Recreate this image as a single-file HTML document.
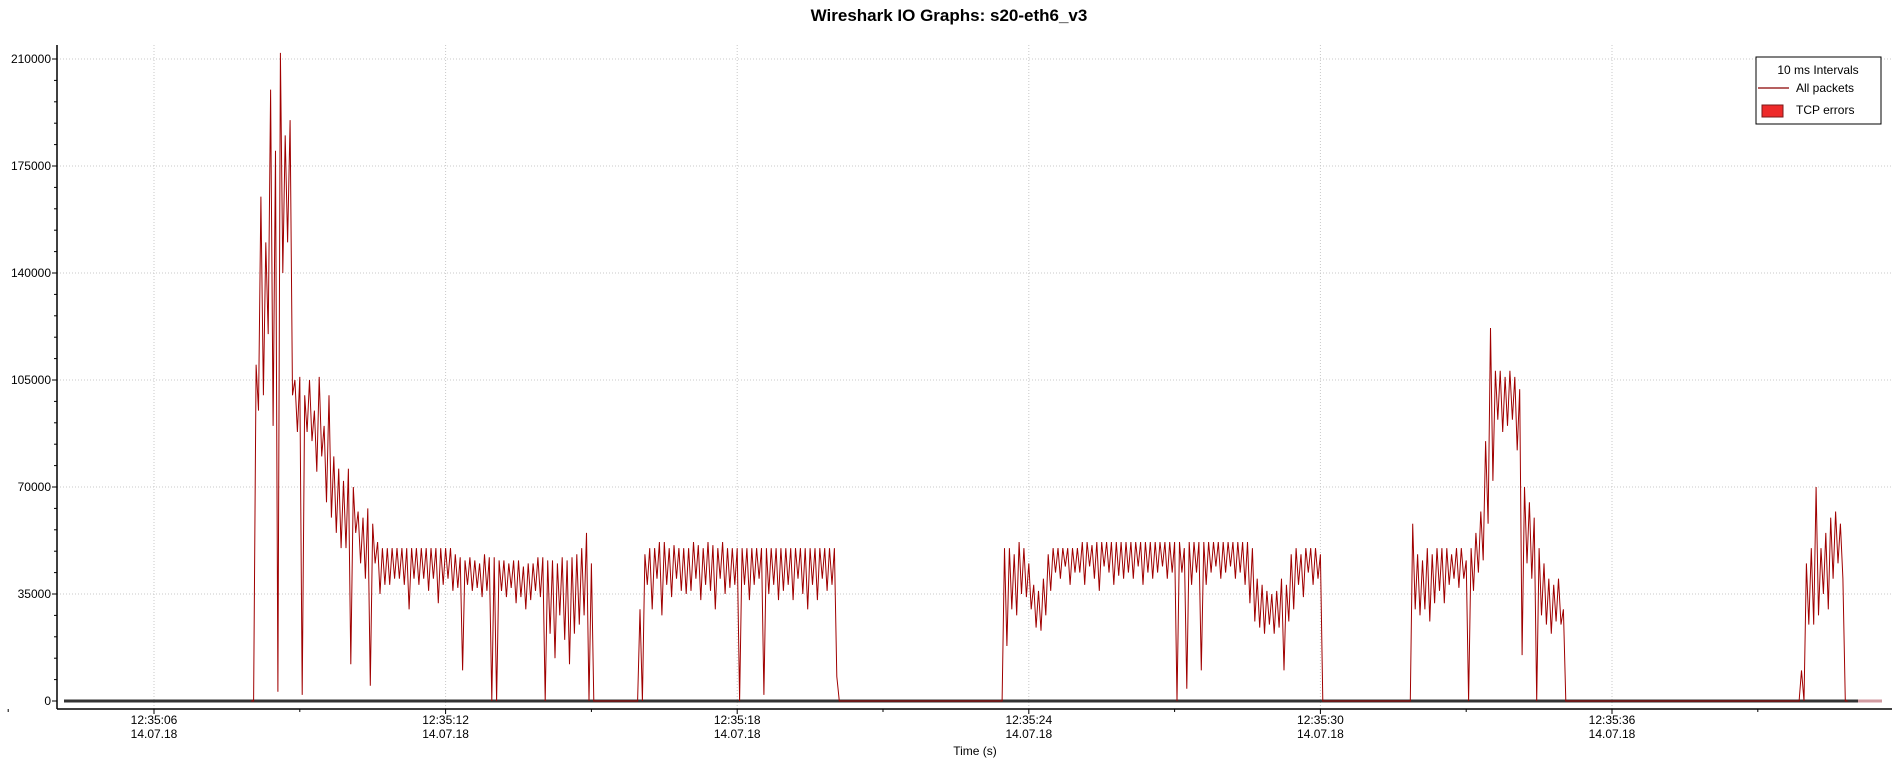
<!DOCTYPE html>
<html><head><meta charset="utf-8">
<style>
html,body{margin:0;padding:0;background:#fff;}
svg{display:block;font-family:"Liberation Sans","DejaVu Sans",sans-serif;}
</style></head>
<body>
<svg id="chart" width="1898" height="763" viewBox="0 0 1898 763">
<text x="949" y="21" text-anchor="middle" font-size="17" font-weight="bold" fill="#000">Wireshark IO Graphs: s20-eth6_v3</text>
<g id="grid"></g>
<g id="axes"></g>
<g id="series"></g>
<text x="975" y="755" text-anchor="middle" font-size="12" fill="#000">Time (s)</text>
<g>
<rect x="1756" y="57" width="125" height="67" fill="#fff" stroke="#000" stroke-width="1"/>
<text x="1818" y="74" text-anchor="middle" font-size="12" fill="#000">10 ms Intervals</text>
<line x1="1758" y1="88" x2="1789" y2="88" stroke="#8b0000" stroke-width="1.2"/>
<text x="1796" y="92" font-size="12" fill="#000">All packets</text>
<rect x="1762" y="105" width="21" height="12" fill="#ee2a2a" stroke="#7a1a1a" stroke-width="1"/>
<text x="1796" y="114" font-size="12" fill="#000">TCP errors</text>
</g>
</svg>
<script>
const startTime = 8.0;
const stepSec = 0.1;
const highK = [
0,110,165,150,200,180,212,185,190,105,
106,100,105,95,106,90,100,80,76,72,
76,70,62,60,63,58,52,50,50,50,
50,50,50,50,50,50,50,50,50,50,
50,50,48,47,46,47,46,45,48,47,
47,46,46,45,46,46,44,45,45,47,
47,46,46,45,47,46,47,48,50,55,
45,0,0,0,0,0,0,0,0,0,
30,48,50,50,52,52,50,51,50,50,
50,52,51,50,52,51,50,52,50,50,
50,50,50,50,50,50,50,50,50,50,
50,50,50,50,50,50,50,50,50,50,
50,0,0,0,0,0,0,0,0,0,
0,0,0,0,0,0,0,0,0,0,
0,0,0,0,0,0,0,0,0,0,
0,0,0,0,0,50,50,48,52,50,
45,38,36,40,48,50,50,50,50,50,
50,52,52,51,52,52,52,52,52,52,
52,52,52,52,52,52,52,52,52,52,
52,52,50,52,52,52,52,52,52,52,
52,52,52,52,52,52,50,40,38,36,
35,36,40,38,48,50,48,50,50,50,
48,0,0,0,0,0,0,0,0,0,
0,0,0,0,0,0,0,0,0,58,
48,46,50,48,50,50,50,48,50,50,
46,50,55,62,85,122,108,108,106,108,
106,102,70,65,60,50,45,40,38,40,
30,0,0,0,0,0,0,0,0,0,
0,0,0,0,0,0,0,0,0,0,
0,0,0,0,0,0,0,0,0,0,
0,0,0,0,0,0,0,0,0,0,
0,0,0,0,0,0,0,0,0,10,
45,50,70,50,55,60,62,58,0
];
const lowK = [
0,95,100,120,90,3,140,150,100,88,
2,88,85,75,80,65,60,55,50,50,
12,55,45,40,5,45,35,38,38,40,
40,38,30,40,38,40,36,40,32,38,
40,36,37,10,38,36,37,34,36,0,
0,36,34,37,32,34,30,33,36,34,
0,22,14,28,20,12,22,25,28,0,
0,0,0,0,0,0,0,0,0,0,
0,38,30,40,28,38,34,40,36,35,
36,40,33,38,36,30,40,35,37,38,
0,38,33,38,40,2,35,38,33,36,
38,33,40,35,30,38,33,40,36,38,
8,0,0,0,0,0,0,0,0,0,
0,0,0,0,0,0,0,0,0,0,
0,0,0,0,0,0,0,0,0,0,
0,0,0,0,0,18,30,28,35,34,
30,24,23,28,36,42,40,44,38,42,
42,38,44,40,36,44,42,38,41,40,
42,40,44,38,42,40,42,44,40,42,
0,42,4,38,42,10,38,42,44,40,
42,44,40,42,38,32,26,24,22,25,
22,24,10,26,30,38,34,42,38,40,
0,0,0,0,0,0,0,0,0,0,
0,0,0,0,0,0,0,0,0,30,
28,30,26,32,36,32,38,40,37,40,
0,36,42,46,58,72,92,88,90,92,
82,15,45,40,0,28,25,22,26,25,
0,0,0,0,0,0,0,0,0,0,
0,0,0,0,0,0,0,0,0,0,
0,0,0,0,0,0,0,0,0,0,
0,0,0,0,0,0,0,0,0,0,
0,0,0,0,0,0,0,0,0,0,
25,25,28,35,30,40,45,40,0
];
const yTicks = [0,35000,70000,105000,140000,175000,210000];
const xTickSecs = [6,12,18,24,30,36];
const xTickLabels = ["12:35:06","12:35:12","12:35:18","12:35:24","12:35:30","12:35:36"];
const dateLabel = "14.07.18";

const NS="http://www.w3.org/2000/svg";
const X0=57, XR=1892, YT=45, YB=709;
function xs(t){return 154+(t-6)*48.6;}
function ys(v){return 701-v/210000*642;}
function mk(tag,attrs,parent){const e=document.createElementNS(NS,tag);for(const k in attrs)e.setAttribute(k,attrs[k]);parent.appendChild(e);return e;}
const grid=document.getElementById('grid'), axes=document.getElementById('axes'), series=document.getElementById('series');

yTicks.forEach(v=>{
  const y=ys(v);
  if(v>0){const g=mk('line',{x1:X0,x2:XR,y1:y,y2:y,stroke:'#c8c8c8','stroke-dasharray':'1,2'},grid);
  
  }
  const tk=mk('line',{x1:X0-5,x2:X0,y1:y,y2:y,stroke:'#000'},axes);
  
  
  const tx=mk('text',{x:X0-6,y:y+4,'text-anchor':'end','font-size':12,fill:'#000'},axes);
  tx.textContent=String(v);
  
  
});
for(let v=7000;v<210000;v+=7000){if(v%35000===0)continue;const y=ys(v);
  const m=mk('line',{x1:X0-3,x2:X0,y1:y,y2:y,stroke:'#000'},axes);
  
  }
xTickSecs.forEach((s,i)=>{
  const x=xs(s);
  const g=mk('line',{x1:x,x2:x,y1:YT,y2:YB,stroke:'#c8c8c8','stroke-dasharray':'1,2'},grid);
  
  
  const tk=mk('line',{x1:x,x2:x,y1:YB,y2:YB+5,stroke:'#000'},axes);
  
  
  const t1=mk('text',{x:x,y:724,'text-anchor':'middle','font-size':12,fill:'#000'},axes);
  t1.textContent=xTickLabels[i];
  
  
  const t2=mk('text',{x:x,y:738,'text-anchor':'middle','font-size':12,fill:'#000'},axes);
  t2.textContent=dateLabel;
  
  
});
for(let s=3;s<=39;s+=6){const x=xs(s);
  const m=mk('line',{x1:x,x2:x,y1:YB,y2:YB+3,stroke:'#000'},axes);
  
  }
const ya=mk('line',{x1:X0,x2:X0,y1:YT,y2:YB,stroke:'#000','stroke-width':1.5},axes);


const xa=mk('line',{x1:X0,x2:XR,y1:YB,y2:YB,stroke:'#000','stroke-width':1.5},axes);



const zl=mk('line',{x1:64,x2:1858,y1:ys(0),y2:ys(0),stroke:'#333','stroke-width':3},series);


const zl2=mk('line',{x1:1858,x2:1882,y1:ys(0),y2:ys(0),stroke:'#d09aa0','stroke-width':3},series);



let d='';
highK.forEach((v,i)=>{
  const t=startTime+i*stepSec;
  const lo=lowK[i];
  d+=(i?'L':'M')+xs(t).toFixed(1)+','+ys(v*1000).toFixed(1);
  d+='L'+xs(t+stepSec/2).toFixed(1)+','+ys(lo*1000).toFixed(1);
});
const p=mk('path',{d:d,fill:'none',stroke:'#a00000','stroke-width':1,'stroke-linejoin':'miter'},series);


</script>
</body></html>
